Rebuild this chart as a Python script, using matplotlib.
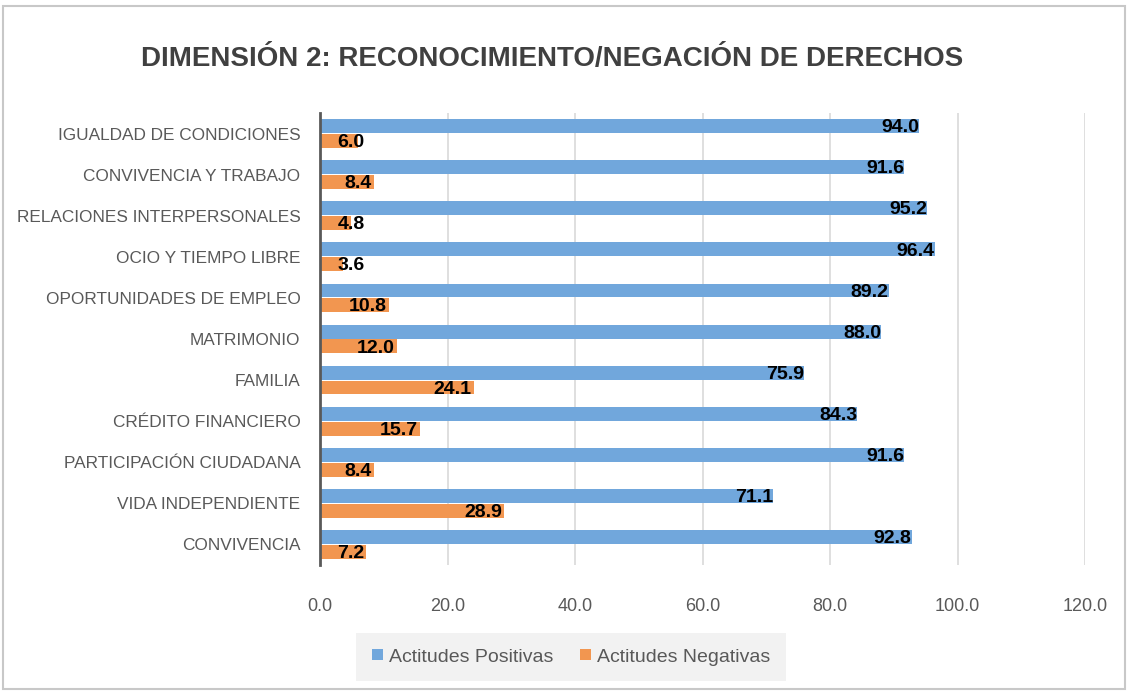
import matplotlib
matplotlib.use('Agg')
import matplotlib.pyplot as plt
from matplotlib.patches import Rectangle
import numpy as np

plt.rcParams['font.family'] = ['Liberation Sans', 'DejaVu Sans']

categories = ['IGUALDAD DE CONDICIONES', 'CONVIVENCIA Y TRABAJO', 'RELACIONES INTERPERSONALES',
              'OCIO Y TIEMPO LIBRE', 'OPORTUNIDADES DE EMPLEO', 'MATRIMONIO', 'FAMILIA',
              'CRÉDITO FINANCIERO', 'PARTICIPACIÓN CIUDADANA', 'VIDA INDEPENDIENTE', 'CONVIVENCIA']
positivas = [94.0, 91.6, 95.2, 96.4, 89.2, 88.0, 75.9, 84.3, 91.6, 71.1, 92.8]
negativas = [6.0, 8.4, 4.8, 3.6, 10.8, 12.0, 24.1, 15.7, 8.4, 28.9, 7.2]
xticks = [0, 20, 40, 60, 80, 100, 120]

blue = '#71a7dc'
orange = '#f29650'
gray = '#595959'

fig = plt.figure(figsize=(11.3, 6.91), dpi=100)
fig.patches.append(Rectangle((0.003, 0.003), 0.993, 0.988, transform=fig.transFigure,
                             fill=False, edgecolor='#c8c8c8', linewidth=1.5))
ax = fig.add_axes([0.2832, 0.1823, 0.677, 0.6542])

y = np.arange(len(categories))
h = 0.34
ax.barh(y - 0.18, positivas, height=h, color=blue, label='Actitudes Positivas', zorder=3)
ax.barh(y + 0.18, negativas, height=h, color=orange, label='Actitudes Negativas', zorder=3)

for yi, v in zip(y, positivas):
    ax.text(v, yi - 0.14, f'{v:.1f}', ha='right', va='center', fontsize=14,
            fontweight='bold', color='black', zorder=4)
for yi, v in zip(y, negativas):
    ax.text(max(v - 0.3, 7.0), yi + 0.22, f'{v:.1f}', ha='right', va='center', fontsize=14,
            fontweight='bold', color='black', zorder=4)

ax.set_xlim(0, 120)
ax.set_ylim(len(categories) - 0.5, -0.5)
ax.set_yticks(y)
ax.set_yticklabels(categories, fontsize=12.4, color=gray)
ax.set_xticks(xticks)
ax.set_xticklabels([f'{t:.1f}' for t in xticks], fontsize=13, color=gray)
ax.tick_params(axis='both', length=0)
ax.tick_params(axis='x', pad=24)
ax.tick_params(axis='y', pad=14)
ax.grid(axis='x', color='#d9d9d9', linewidth=1.2, zorder=0)
for s in ['top', 'right', 'bottom']:
    ax.spines[s].set_visible(False)
ax.spines['left'].set_color(gray)
ax.spines['left'].set_linewidth(2)
ax.spines['left'].set_zorder(5)

fig.text(0.489, 0.915, 'DIMENSIÓN 2: RECONOCIMIENTO/NEGACIÓN DE DERECHOS', ha='center', va='center',
         fontsize=20, fontweight='bold', color='#404040')

leg = fig.legend(loc='center', bbox_to_anchor=(571 / 1130, 1 - 657 / 691), ncol=2,
                 fontsize=14, frameon=True, facecolor='#f2f2f2', edgecolor='none',
                 handlelength=0.55, handleheight=0.55, handletextpad=0.3, columnspacing=1.4,
                 borderpad=0.8, fancybox=False)
leg.get_frame().set_alpha(1)
for t in leg.get_texts():
    t.set_color(gray)

fig.savefig('out.png', dpi=100)
